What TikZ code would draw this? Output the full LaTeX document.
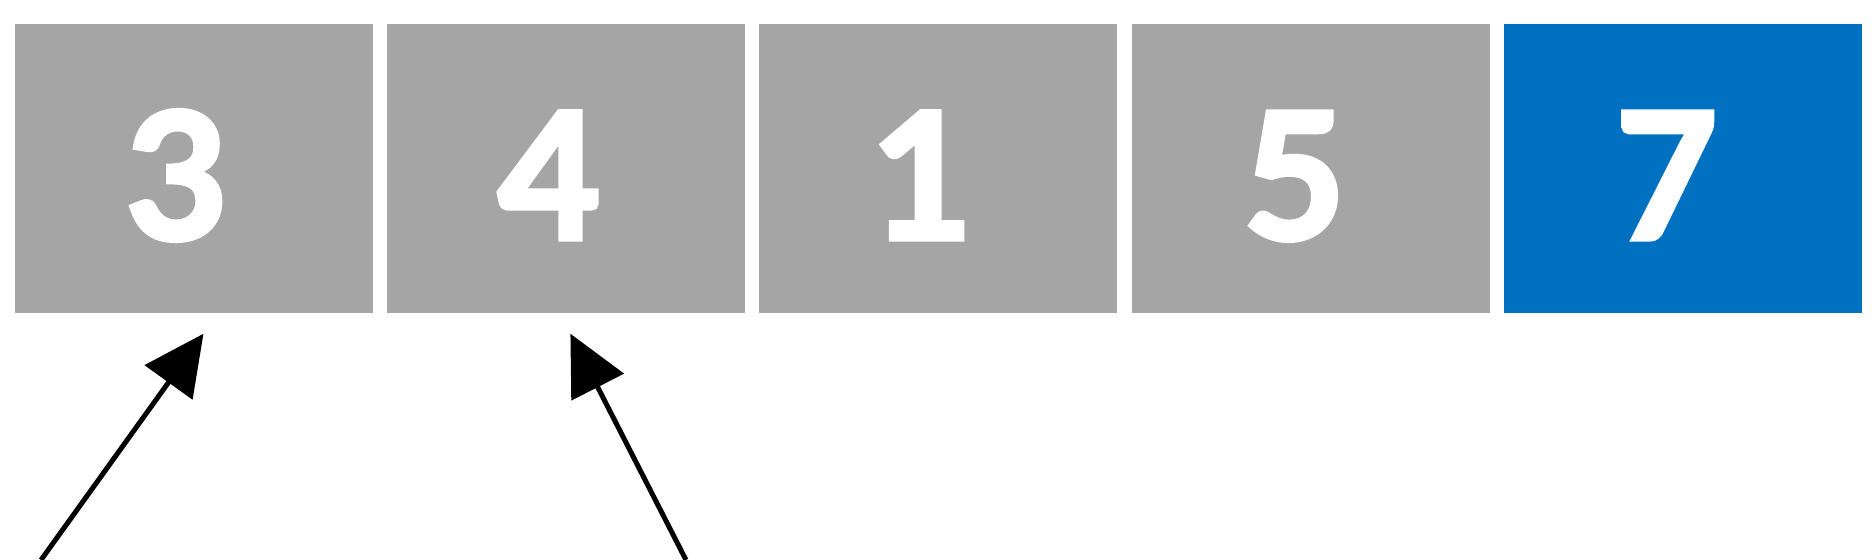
\documentclass[tikz,border=0pt]{standalone}
\usepackage{fontspec}
\newfontfamily\cellfont{Lato}[BoldFeatures={FakeBold=3}]
\usetikzlibrary{positioning,calc,arrows.meta}
\definecolor{cellgray}{HTML}{A5A5A5}
\definecolor{cellblue}{HTML}{0070C0}

\begin{document}
\begin{tikzpicture}[
	node distance=1.3mm,
	cell/.style={fill=cellgray, minimum width=35.8mm, minimum height=28.9mm, inner sep=0pt,
		text=white, font=\cellfont\fontsize{50}{50}\selectfont\bfseries,
		text height=14.1mm, text depth=0pt, execute at begin node=\hspace*{-3.3mm}},
	pointer/.style={-{Triangle[length=6mm,width=5.8mm]}, line width=0.5mm}
]
	\useasboundingbox (0,0) rectangle (187.2mm,-56mm);
	\node[cell] (c1) at (19.35mm,-16.85mm) {3};
	\node[cell, right=of c1] (c2) {4};
	\node[cell, right=of c2] (c3) {1};
	\node[cell, right=of c3] (c4) {5};
	\node[cell, fill=cellblue, right=of c4] (c5) {7};
	\coordinate (p1) at (4.1mm,-56mm);
	\coordinate (p2) at (68.6mm,-56mm);
	\draw[pointer] (p1) -- ($(c1.south)+(1mm,-2mm)$);
	\draw[pointer] (p2) -- ($(c2.south)+(0.45mm,-2mm)$);
\end{tikzpicture}
\end{document}
